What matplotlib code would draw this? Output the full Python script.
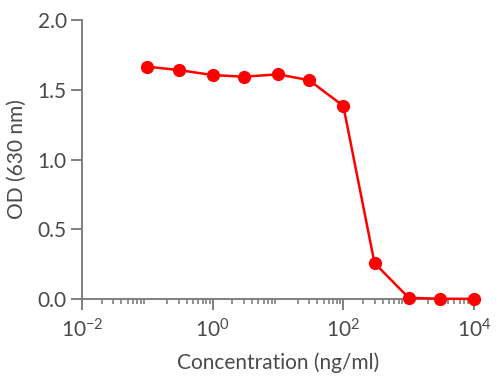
import matplotlib
matplotlib.use("Agg")
import numpy as np
import matplotlib.pyplot as plt
from matplotlib.ticker import LogLocator, FixedLocator, FixedFormatter

# data
concentration = [0.1, 0.3, 1, 3, 10, 30, 100, 300, 1000, 3000, 10000]
od_630 = [1.666, 1.642, 1.606, 1.594, 1.611, 1.569, 1.384, 0.258, 0.009, 0.002, 0.001]

x_ticks = [1e-2, 1e0, 1e2, 1e4]
x_tick_labels = [r"$\mathregular{10^{-2}}$", r"$\mathregular{10^{0}}$",
                 r"$\mathregular{10^{2}}$", r"$\mathregular{10^{4}}$"]
y_ticks = [0.0, 0.5, 1.0, 1.5, 2.0]

plt.rcParams["font.family"] = ["Lato", "DejaVu Sans"]
plt.rcParams["mathtext.fontset"] = "custom"
plt.rcParams["mathtext.rm"] = "Lato"
plt.rcParams["mathtext.it"] = "Lato:italic"

SPINE = "#7f7f7f"
TEXT = "#4a4a4a"

fig = plt.figure(figsize=(5.0, 3.79), dpi=100)
ax = fig.add_axes([0.164, 0.211, 0.784, 0.736])

ax.plot(concentration, od_630, color="#ff0000", linewidth=1.8,
        marker="o", markersize=8.5, clip_on=False, zorder=3)

ax.set_xscale("log")
ax.set_xlim(1e-2, 1e4)
ax.set_ylim(0, 2.0)

ax.xaxis.set_major_locator(FixedLocator(x_ticks))
ax.xaxis.set_major_formatter(FixedFormatter(x_tick_labels))
ax.xaxis.set_minor_locator(LogLocator(base=10, subs=np.arange(2, 10)))
ax.set_yticks(y_ticks)
ax.set_yticklabels([f"{v:.1f}" for v in y_ticks])

for side in ("top", "right"):
    ax.spines[side].set_visible(False)
for side in ("left", "bottom"):
    ax.spines[side].set_color(SPINE)
    ax.spines[side].set_linewidth(1.4)

ax.tick_params(axis="both", which="major", direction="out", length=8,
               width=1.4, color=SPINE, labelcolor=TEXT, labelsize=15, pad=3)
ax.tick_params(axis="x", which="major", pad=6)
ax.tick_params(axis="x", which="minor", direction="out", length=3.5,
               width=1.2, color=SPINE)

ax.set_xlabel("Concentration (ng/ml)", fontsize=15, color=TEXT, labelpad=8)
ax.set_ylabel("OD (630 nm)", fontsize=15, color=TEXT, labelpad=8)

fig.savefig("out.png", dpi=100)
